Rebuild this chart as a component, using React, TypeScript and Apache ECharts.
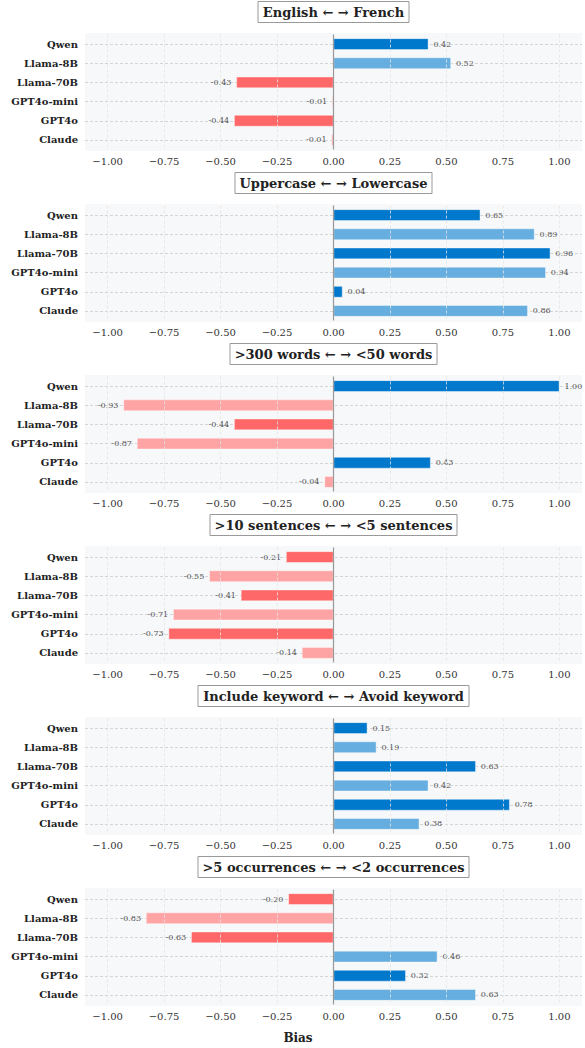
import React, { useEffect, useRef } from "react";
import * as echarts from "echarts";

const CATEGORIES = ["Qwen", "Llama-8B", "Llama-70B", "GPT4o-mini", "GPT4o", "Claude"];
const TITLES = [
  "English ← → French",
  "Uppercase ← → Lowercase",
  ">300 words ← → <50 words",
  ">10 sentences ← → <5 sentences",
  "Include keyword ← → Avoid keyword",
  ">5 occurrences ← → <2 occurrences",
];
const LANGUAGE = [0.42, 0.52, -0.43, -0.006, -0.44, -0.009];
const CASE = [0.65, 0.89, 0.96, 0.94, 0.04, 0.86];
const WORDS = [1.0, -0.93, -0.44, -0.87, 0.43, -0.04];
const SENTENCES = [-0.21, -0.55, -0.41, -0.71, -0.73, -0.14];
const KEYWORD = [0.15, 0.19, 0.63, 0.42, 0.78, 0.38];
const OCCURRENCES = [-0.2, -0.83, -0.63, 0.46, 0.32, 0.63];
const PANELS = [LANGUAGE, CASE, WORDS, SENTENCES, KEYWORD, OCCURRENCES];
const TICKS = [-1, -0.75, -0.5, -0.25, 0, 0.25, 0.5, 0.75, 1];
const X_MIN = -1.1;
const X_MAX = 1.1;
const AXIS_TITLE = "Bias";

const W = 585;
const H = 1048;
const STEP = 171;
const PLOT_TOP = 33;
const PLOT_H = 118;
const PLOT_LEFT = 85;
const PLOT_RIGHT = 582;
const FONT = "DejaVu Serif";

const DARK_POS = "#0078cc";
const LIGHT_POS = "#66aee0";
const DARK_NEG = "#ff6868";
const LIGHT_NEG = "#ffa4a4";

function fmtTick(v: number) {
  return (v < 0 ? "\u2212" : "") + Math.abs(v).toFixed(2);
}

export default function App() {
  const ref = useRef<HTMLDivElement>(null);
  useEffect(() => {
    document.body.style.margin = "0";
    if (!ref.current) return;
    const chart = echarts.init(ref.current, null, { renderer: "svg" });
    const plotW = PLOT_RIGHT - PLOT_LEFT;
    const grids: any[] = [];
    const xAxes: any[] = [];
    const yAxes: any[] = [];
    const series: any[] = [];
    const titles: any[] = [];
    const graphics: any[] = [];
    PANELS.forEach((vals, i) => {
      const top = PLOT_TOP + STEP * i;
      grids.push({ left: PLOT_LEFT, width: plotW, top: top + 1.5, height: PLOT_H - 3, containLabel: false });
      graphics.push({
        type: "rect",
        z: -10,
        silent: true,
        shape: { x: PLOT_LEFT, y: top, width: plotW, height: PLOT_H },
        style: { fill: "#f7f8fa" },
      });
      titles.push({
        text: TITLES[i],
        left: (PLOT_LEFT + PLOT_RIGHT) / 2 - 5,
        textAlign: "center",
        top: 1 + STEP * i,
        padding: [4, 5],
        borderColor: "#999",
        borderWidth: 1,
        backgroundColor: "#fff",
        textStyle: { fontFamily: FONT, fontWeight: "bold", fontSize: 13, lineHeight: 14, color: "#222" },
      });
      xAxes.push({
        type: "value",
        gridIndex: i,
        min: X_MIN,
        max: X_MAX,
        axisLine: { show: false },
        axisTick: { show: false },
        splitLine: { show: false },
        axisLabel: {
          customValues: TICKS,
          formatter: (v: number) => fmtTick(v),
          fontFamily: FONT,
          fontSize: 10,
          color: "#333",
          margin: 7,
        },
      });
      yAxes.push({
        type: "category",
        gridIndex: i,
        data: CATEGORIES,
        inverse: true,
        axisLine: { show: false, onZero: false },
        axisTick: {
          show: true,
          inside: true,
          alignWithLabel: true,
          length: plotW,
          lineStyle: { color: "#cccccc", type: [3, 2], width: 0.8 },
        },
        splitLine: { show: false },
        axisLabel: { fontFamily: FONT, fontWeight: "bold", fontSize: 10, color: "#222", margin: 7 },
      });
      series.push({
        type: "line",
        xAxisIndex: i,
        yAxisIndex: i,
        data: [],
        z: 1,
        silent: true,
        markLine: {
          silent: true,
          symbol: ["none", "none"],
          label: { show: false },
          lineStyle: { color: "#e4e4e4", type: [3, 2], width: 0.8 },
          data: TICKS.filter((t) => t !== 0).map((t) => ({ xAxis: t })),
        },
      });
      series.push({
        type: "bar",
        xAxisIndex: i,
        yAxisIndex: i,
        z: 3,
        barWidth: "60%",
        data: vals.map((v, j) => {
          const dark = j % 2 === 0;
          const color = v >= 0 ? (dark ? DARK_POS : LIGHT_POS) : dark ? DARK_NEG : LIGHT_NEG;
          return {
            value: v,
            itemStyle: { color, borderColor: "rgba(255,255,255,0.7)", borderWidth: 0.6 },
            label: { position: v >= 0 ? "right" : "left" },
          };
        }),
        label: {
          show: true,
          distance: 5,
          fontFamily: FONT,
          fontSize: 8,
          color: "#555",
          formatter: (p: any) => Number(p.value).toFixed(2),
        },
        markLine: {
          silent: true,
          symbol: ["none", "none"],
          label: { show: false },
          lineStyle: { color: "#999", type: "solid", width: 1.2 },
          data: [{ xAxis: 0 }],
        },
      });
    });
    graphics.push({
      type: "text",
      x: 298,
      y: 1038,
      style: {
        text: AXIS_TITLE,
        fontFamily: FONT,
        fontWeight: "bold",
        fontSize: 12,
        fill: "#222",
        textAlign: "center",
        textVerticalAlign: "middle",
      },
    });
    chart.setOption({
      animation: false,
      backgroundColor: "#fff",
      title: titles,
      grid: grids,
      xAxis: xAxes,
      yAxis: yAxes,
      series,
      graphic: { elements: graphics },
    });
    return () => chart.dispose();
  }, []);
  return <div ref={ref} style={{ width: W, height: H }} />;
}
